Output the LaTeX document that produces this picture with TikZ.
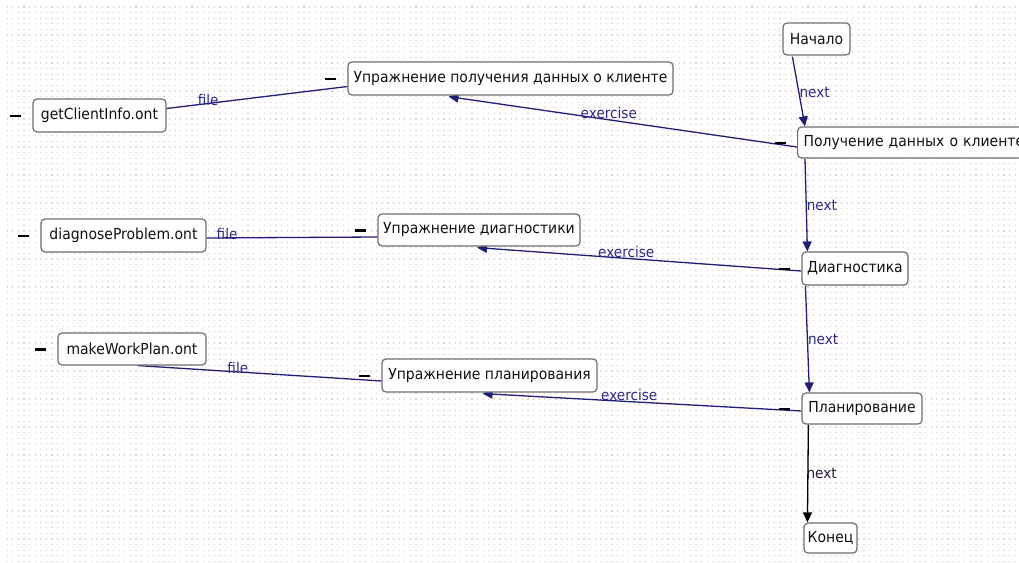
\documentclass[tikz,border=0pt]{standalone}
\usepackage{fontspec}
\setmainfont{DejaVu Sans}[FakeStretch=0.92]
\usetikzlibrary{arrows.meta,calc}
\definecolor{edgeblue}{HTML}{1F1F78}
\definecolor{labelblue}{HTML}{2B2B8A}
\definecolor{labeldark}{HTML}{2A1A3A}
\definecolor{boxline}{HTML}{6E6E6E}
\definecolor{griddot}{HTML}{D6D3CB}
\definecolor{boxtext}{HTML}{111111}
\pgfdeclarelayer{links}
\pgfsetlayers{links,main}
\tikzset{
  box/.style={draw=boxline, line width=1.2pt, rounded corners=4pt, fill=white,
    text=boxtext, inner sep=0pt, font=\fontsize{15.2}{17}\selectfont},
  link/.style={draw=edgeblue, line width=1.3pt},
  arrowlink/.style={link, -{Triangle[length=10pt,width=9pt]}},
  lbl/.style={text=labelblue, inner sep=0pt, font=\fontsize{14.8}{16}\selectfont},
  fold/.style={line width=2.2pt, draw=black},
}
\begin{document}
\begin{tikzpicture}[x=1pt,y=-1pt]
\useasboundingbox (0,0) rectangle (1019,562);
\clip (0,0) rectangle (1019,562);

% nodes
\node[box, minimum width=67pt, minimum height=32pt] (start) at (816.5,39) {Начало};
\node[box, minimum height=31pt, anchor=west, text width=240pt, inner xsep=6pt, align=left] (get) at (797,142.5) {Получение данных о клиенте};
\node[box, minimum width=325pt, minimum height=33pt] (exA) at (510.5,78.5) {Упражнение получения данных о клиенте};
\node[box, minimum width=133pt, minimum height=33pt] (fileA) at (99.5,115.5) {getClientInfo.ont};
\node[box, minimum width=106pt, minimum height=33pt] (diag) at (855,268.5) {Диагностика};
\node[box, minimum width=202pt, minimum height=32pt] (exB) at (479,230) {Упражнение диагностики};
\node[box, minimum width=165pt, minimum height=33pt] (fileB) at (123.5,235.5) {diagnoseProblem.ont};
\node[box, minimum width=120pt, minimum height=31pt] (plan) at (862,408.5) {Планирование};
\node[box, minimum width=215pt, minimum height=33pt] (exC) at (489.5,375.5) {Упражнение планирования};
\node[box, minimum width=148pt, minimum height=32pt] (fileC) at (132,349) {makeWorkPlan.ont};
\node[box, minimum width=53pt, minimum height=30pt] (end) at (830.5,538) {Конец};

\begin{pgfonlayer}{links}
% white page with a dotted grid
\fill[white] (0,0) rectangle (1019,562);
\foreach \r in {0,...,99}{
  \draw[griddot, line width=1.3pt, dash pattern=on 1.3pt off 4.3pt]
    (6.5,7+5.6*\r) -- (1019,7+5.6*\r);
}

% file links
\draw[link] ($(exA.west)+(0,8)$) -- ($(fileA.east)+(0,-7)$) node[lbl, pos=0.77, above=-3pt] {file};
\draw[link] ($(exB.west)+(0,7)$) -- ($(fileB.east)+(0,2.5)$) node[lbl, pos=0.88, above=-2pt] {file};
\draw[link] ($(exC.west)+(0,5.5)$) -- ($(fileC.south)+(6,0)$) node[lbl, pos=0.59, above=-2pt] {file};

% exercise links
\draw[arrowlink] ($(get.west)+(0,4.5)$) -- ($(exA.south)+(-62,1)$) node[lbl, pos=0.54, above=0pt] {exercise};
\draw[arrowlink] ($(diag.west)+(0,2.5)$) -- ($(exB.south)+(-2,1)$) node[lbl, pos=0.54, above=0pt] {exercise};
\draw[arrowlink] ($(plan.west)+(0,2.5)$) -- ($(exC.south)+(-7,1)$) node[lbl, pos=0.54, above=0pt] {exercise};

% next links
\draw[arrowlink] ($(start.south west)+(10,1)$) -- ($(get.north west)+(8,0)$) node[lbl, pos=0.52, right=0pt] {next};
\draw[arrowlink] ($(get.south west)+(8,0)$) -- ($(diag.north west)+(6,0)$) node[lbl, pos=0.5, right=0pt] {next};
\draw[arrowlink] ($(diag.south west)+(4,0)$) -- ($(plan.north west)+(8,0)$) node[lbl, pos=0.5, right=0pt] {next};
\draw[line width=1.3pt, draw=black, -{Triangle[length=10pt,width=9pt]}] ($(plan.south west)+(7,0)$) -- ($(end.north west)+(4,0)$) node[lbl, text=labeldark, pos=0.5, right=-2pt] {next};
\end{pgfonlayer}

% fold markers beside the boxes
\foreach \n in {get,exA,fileA,diag,exB,fileB,plan,exC,fileC}{
  \draw[fold] ($(\n.west)+(-22,0.5)$) -- ($(\n.west)+(-11,0.5)$);
}
\end{tikzpicture}
\end{document}
